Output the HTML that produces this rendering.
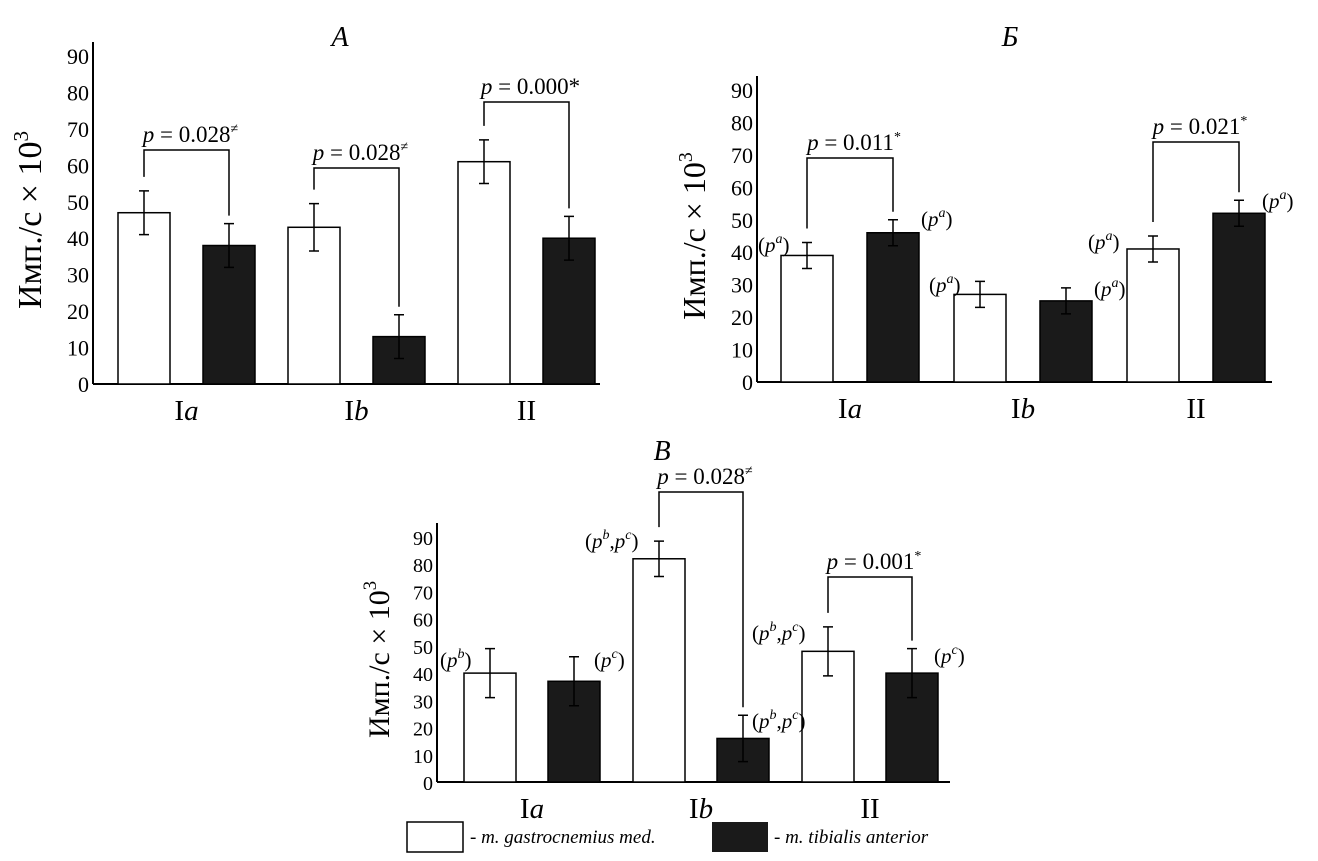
<!DOCTYPE html>
<html><head><meta charset="utf-8">
<style>
body{margin:0;background:#fff;}
svg{display:block;font-family:"Liberation Serif","DejaVu Serif",serif;}
</style></head>
<body>
<svg id="s" width="1318" height="861"></svg>
<script>
const categories = ["Ia","Ib","II"];
const valuesA_white = [47,43,61];
const valuesA_black = [38,13,40];
const errA_white = [6,6.5,6];
const errA_black = [6,6,6];
const valuesB_white = [39,27,41];
const valuesB_black = [46,25,52];
const errB_white = [4,4,4];
const errB_black = [4,4,4];
const valuesC_white = [40,82,48];
const valuesC_black = [37,16,40];
const errC_white = [9,6.5,9];
const errC_black = [9,8.5,9];
const yTicks = [0,10,20,30,40,50,60,70,80,90];

const NS="http://www.w3.org/2000/svg";
const svg=document.getElementById('s');
function el(tag,attrs,parent,text){const e=document.createElementNS(NS,tag);for(const k in attrs)e.setAttribute(k,attrs[k]);if(text!==undefined)e.textContent=text;(parent||svg).appendChild(e);return e;}

function panel(cfg){
  const g=el('g',{});
  
  
  const y=v=>cfg.y0-(v/90)*(cfg.y0-cfg.y90);
  const ax=el('line',{x1:cfg.ax,y1:cfg.y90-14,x2:cfg.ax,y2:cfg.y0,stroke:'#000','stroke-width':2},g);
  
  
  const xa=el('line',{x1:cfg.ax,y1:cfg.y0,x2:cfg.xend,y2:cfg.y0,stroke:'#000','stroke-width':2},g);
  
  
  yTicks.forEach(t=>{
    const tx=el('text',{x:cfg.ax-4,y:y(t)+8,'text-anchor':'end','font-size':cfg.fs},g,String(t));
    
    
  });
  const yt=el('text',{transform:`translate(${cfg.ax-cfg.tOff},${(cfg.y0+cfg.y90)/2}) rotate(-90)`,'text-anchor':'middle','font-size':cfg.tfs},g);
  yt.innerHTML='Имп./с × 10<tspan font-size="'+(cfg.tfs*0.62)+'" dy="-13">3</tspan>';
  
  
  const ti=el('text',{x:cfg.tx,y:cfg.ty,'text-anchor':'middle','font-size':28,'font-style':'italic'},g,cfg.title);
  
  
  categories.forEach((c,i)=>{
    const cx=cfg.ax+cfg.off+i*cfg.step;
    const wx=cx, bx=cx+cfg.gap;
    [[wx,cfg.w[i],cfg.ew[i],'#fff','bar-white'],[bx,cfg.b[i],cfg.eb[i],'#1a1a1a','bar-black']].forEach(([x,v,e,f,n])=>{
      const r=el('rect',{x:x,y:y(v),width:cfg.bw,height:cfg.y0-y(v),fill:f,stroke:'#000','stroke-width':1.5},g);
      
      
      const mx=x+cfg.bw/2;
      const eb=el('path',{d:`M${mx},${y(v+e)}V${y(v-e)}M${mx-5},${y(v+e)}H${mx+5}M${mx-5},${y(v-e)}H${mx+5}`,stroke:'#000',fill:'none','stroke-width':1.5},g);
      
      
    });
    const lb=el('text',{x:cx+cfg.gap/2+cfg.bw/2,y:cfg.y0+36,'text-anchor':'middle','font-size':29},g);
    lb.innerHTML=c==='II'?'II':'I<tspan font-style="italic">'+c[1]+'</tspan>';
    
    
  });
  cfg.brackets.forEach(br=>{
    const i=br.i;const cx=cfg.ax+cfg.off+i*cfg.step;
    const x1=cx+cfg.bw/2, x2=cx+cfg.gap+cfg.bw/2;
    const p=el('path',{d:`M${x1},${y(cfg.w[i]+cfg.ew[i])-14}V${br.top}H${x2}V${y(cfg.b[i]+cfg.eb[i])-8}`,stroke:'#000',fill:'none','stroke-width':1.5},g);
    
    
    const t=el('text',{x:(x1+x2)/2+4,y:br.top-8,'text-anchor':'middle','font-size':23},g);
    t.innerHTML='<tspan font-style="italic">p</tspan> = '+br.t+'<tspan font-size="14" dy="-9">'+br.s+'</tspan>';
    
    
  });
  (cfg.notes||[]).forEach(n=>{
    const t=el('text',{x:n[0],y:n[1],'font-size':21},g);
    t.innerHTML=n[2];
    
    
  });
}
const pa=s=>'(<tspan font-style="italic">p</tspan><tspan font-size="14" dy="-9" font-style="italic">'+s+'</tspan><tspan dy="9">)</tspan>';
const pbc='(<tspan font-style="italic">p</tspan><tspan font-size="14" dy="-9" font-style="italic">b</tspan><tspan dy="9">,</tspan><tspan font-style="italic">p</tspan><tspan font-size="14" dy="-9" font-style="italic">c</tspan><tspan dy="9">)</tspan>';
panel({name:'panel-a',title:'A',tx:340,ty:46,ax:93,y0:384,y90:56,xend:600,off:25,step:170,gap:85,bw:52,fs:22,tfs:34,tOff:52,
  w:valuesA_white,b:valuesA_black,ew:errA_white,eb:errA_black,
  brackets:[{i:0,top:150,t:'0.028',s:'≠'},{i:1,top:168,t:'0.028',s:'≠'},{i:2,top:102,t:'0.000*',s:''}]});
panel({name:'panel-b',title:'Б',tx:1010,ty:46,ax:757,y0:382,y90:90,xend:1272,off:24,step:173,gap:86,bw:52,fs:22,tfs:32,tOff:52,
  w:valuesB_white,b:valuesB_black,ew:errB_white,eb:errB_black,
  brackets:[{i:0,top:158,t:'0.011',s:'*'},{i:2,top:142,t:'0.021',s:'*'}],
  notes:[[758,252,pa('a')],[921,226,pa('a')],[929,292,pa('a')],[1094,296,pa('a')],[1088,249,pa('a')],[1262,208,pa('a')]]});
panel({name:'panel-c',title:'В',tx:662,ty:460,ax:437,y0:782,y90:537,xend:950,off:27,step:169,gap:84,bw:52,fs:20,tfs:30,tOff:48,
  w:valuesC_white,b:valuesC_black,ew:errC_white,eb:errC_black,
  brackets:[{i:1,top:492,t:'0.028',s:'≠'},{i:2,top:577,t:'0.001',s:'*'}],
  notes:[[440,667,pa('b')],[594,667,pa('c')],[585,548,pbc],[752,728,pbc],[752,640,pbc],[934,663,pa('c')]]});
const lg=el('g',{});


const l1=el('rect',{x:407,y:822,width:56,height:30,fill:'#fff',stroke:'#000','stroke-width':1.5},lg);


const t1=el('text',{x:470,y:843,'font-size':19,'font-style':'italic'},lg,'- m. gastrocnemius med.');


const l2=el('rect',{x:712,y:822,width:56,height:30,fill:'#1a1a1a'},lg);


const t2=el('text',{x:774,y:843,'font-size':19,'font-style':'italic'},lg,'- m. tibialis anterior');


</script>
</body></html>
